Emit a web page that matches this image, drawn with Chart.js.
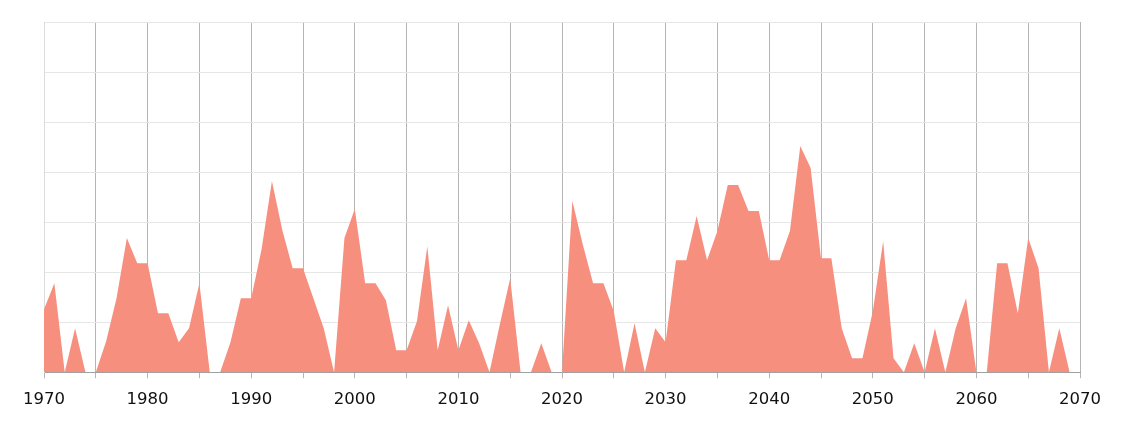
<!DOCTYPE html>
<html>
<head>
<meta charset="utf-8">
<script src="https://cdn.jsdelivr.net/npm/chart.js@4/dist/chart.umd.min.js"></script>
<style>
  html, body { margin: 0; padding: 0; background: #fff; }
  #wrap { width: 1124px; height: 423px; position: relative; }
</style>
</head>
<body>
<div id="wrap"><canvas id="chart"></canvas></div>
<script>
/* ─── Data ─────────────────────────────────────── */

const YEARS = [
  1970, 1971, 1972, 1973, 1974, 1975, 1976, 1977, 1978, 1979,
  1980, 1981, 1982, 1983, 1984, 1985, 1986, 1987, 1988, 1989,
  1990, 1991, 1992, 1993, 1994, 1995, 1996, 1997, 1998, 1999,
  2000, 2001, 2002, 2003, 2004, 2005, 2006, 2007, 2008, 2009,
  2010, 2011, 2012, 2013, 2014, 2015, 2016, 2017, 2018, 2019,
  2020, 2021, 2022, 2023, 2024, 2025, 2026, 2027, 2028, 2029,
  2030, 2031, 2032, 2033, 2034, 2035, 2036, 2037, 2038, 2039,
  2040, 2041, 2042, 2043, 2044, 2045, 2046, 2047, 2048, 2049,
  2050, 2051, 2052, 2053, 2054, 2055, 2056, 2057, 2058, 2059,
  2060, 2061, 2062, 2063, 2064, 2065, 2066, 2067, 2068, 2069,
];

const VALUES = [
   63,  89,   0,  44,   0,   0,  31,  74, 134, 109,
  109,  59,  59,  30,  44,  89,   0,   0,  30,  74,
   74, 123, 191, 142, 104, 104,  74,  44,   0, 134,
  163,  89,  89,  72,  22,  22,  51, 126,  22,  67,
   22,  52,  29,   0,  48,  94,   0,   0,  29,   0,
    0, 171, 128,  89,  89,  61,   0,  49,   0,  44,
   30, 112, 112, 156, 112, 141, 187, 187, 161, 161,
  112, 112, 141, 226, 204, 114, 114,  44,  14,  14,
   61, 131,  14,   0,  29,   0,  44,   0,  44,  74,
    0,   0, 109, 109,  59, 134, 104,   0,  44,   0,
];

const X_MIN = 1970, X_MAX = 2070, X_STEP = 5, LABEL_EVERY = 10;
const Y_MAX = 350, Y_STEP = 50;

const COLORS = {
  fill: '#f78f7f',
  gridV: '#b5b5b5',
  gridH: '#e6e6e6',
  axis: '#a0a0a0',
  text: '#111111',
};

/* ─── Chart ─────────────────────────────────────── */

const ctx = document.getElementById('chart').getContext('2d');

new Chart(ctx, {
  type: 'line',
  data: {
    datasets: [{
      data: YEARS.map((y, i) => ({ x: y, y: VALUES[i] })),
      backgroundColor: COLORS.fill,
      borderWidth: 0,
      fill: 'origin',
      tension: 0,
      pointRadius: 0,
    }]
  },
  options: {
    responsive: true, maintainAspectRatio: false, animation: false,
    layout: { padding: { left: 44, right: 44, top: 22, bottom: 1 } },
    plugins: { legend: { display: false }, tooltip: { enabled: false } },
    scales: {
      x: {
        type: 'linear', min: X_MIN, max: X_MAX,
        grid: { color: COLORS.gridV, tickLength: 6, tickColor: COLORS.gridV },
        border: { color: COLORS.axis, width: 1 },
        ticks: {
          stepSize: X_STEP, autoSkip: false, maxRotation: 0, padding: 12,
          color: COLORS.text, font: { family: 'DejaVu Sans', size: 16.5 },
          callback: v => (v % LABEL_EVERY === 0 ? String(v) : ''),
        },
      },
      y: {
        min: 0, max: Y_MAX,
        grid: { color: COLORS.gridH, drawTicks: false },
        border: { color: '#dcdcdc', width: 1 },
        ticks: { display: false, stepSize: Y_STEP },
      },
    },
  },
});
</script>
</body>
</html>
